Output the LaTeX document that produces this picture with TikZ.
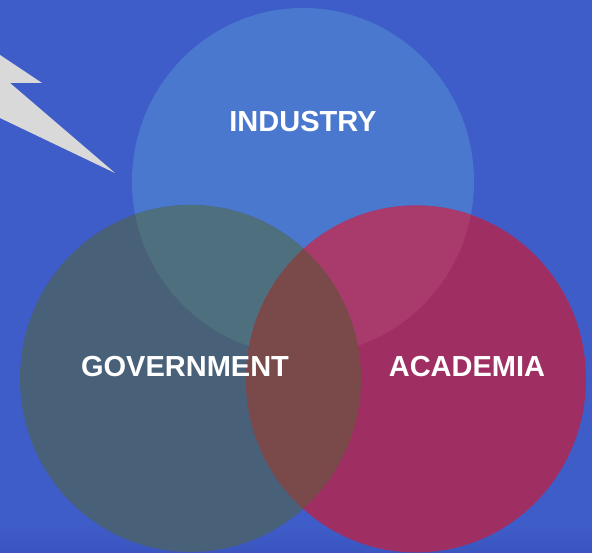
\documentclass[tikz,border=0pt]{standalone}
\usepackage{fontspec}
\setmainfont{Liberation Sans}
\definecolor{bg}{HTML}{3F5DC9}
\definecolor{bgdark}{HTML}{3A55C0}
\definecolor{ind}{HTML}{4A78CE}
\definecolor{gov}{HTML}{486078}
\definecolor{aca}{HTML}{9F2F63}
\definecolor{indgov}{HTML}{4E6F7E}
\definecolor{indaca}{HTML}{A83B6B}
\definecolor{govaca}{HTML}{7A4A4A}
\definecolor{bolt}{HTML}{D9D9D9}
\tikzset{lbl/.style={text=white,font=\bfseries\fontsize{29}{33}\selectfont,inner sep=0pt}}
\begin{document}
\begin{tikzpicture}[x=1pt,y=1pt]
\fill[bg] (0,0) rectangle (592,552);
\shade[bottom color=bgdark, top color=bg] (0,0) rectangle (592,30);
\useasboundingbox (0,0) rectangle (592,552);
% lightning bolt
\fill[bolt] (0,497) -- (42,469) -- (10,469) -- (115,379) -- (0,434) -- cycle;
% circles
\def\Ind{(303,370.5) ellipse [x radius=171, y radius=173.5]}
\def\Gov{(190.5,173.5) ellipse [x radius=170.5, y radius=173.5]}
\def\Aca{(416,173) ellipse [x radius=170, y radius=173.5]}
\fill[ind] \Ind;
\fill[gov] \Gov;
\fill[aca] \Aca;
\begin{scope}\clip \Ind; \fill[indgov] \Gov; \end{scope}
\begin{scope}\clip \Ind; \fill[indaca] \Aca; \end{scope}
\begin{scope}\clip \Gov; \fill[govaca] \Aca; \end{scope}
\node[lbl] (industry) at (303,430) {INDUSTRY};
\node[lbl] (government) at (185,185) {GOVERNMENT};
\node[lbl] (academia) at (467,185) {ACADEMIA};
\end{tikzpicture}
\end{document}
